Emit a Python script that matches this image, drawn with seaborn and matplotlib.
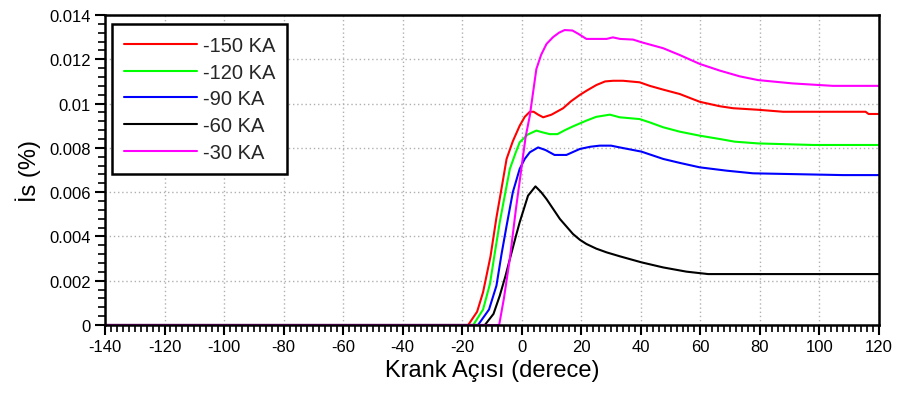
import numpy as np
import pandas as pd
import matplotlib
matplotlib.use("Agg")
import matplotlib.pyplot as plt
import seaborn as sns
from matplotlib.ticker import MultipleLocator, FuncFormatter

# ---- data ----
series_labels = ["-150 KA", "-120 KA", "-90 KA", "-60 KA", "-30 KA"]
series_colors = ["#FF0000", "#00FF00", "#0000FF", "#000000", "#FF00FF"]

x_150 = [-140, -18, -15, -13, -10.5, -8.5, -6.5, -5.1, -3, -0.7, 1, 2.7, 4, 5.5, 7.2, 10,
         13.9, 16.5, 19.5, 22, 25.1, 28, 30.7, 34, 39.6, 43, 47.5, 53.1, 59.8, 66.5, 71,
         79.4, 87.8, 115.5, 116.5, 120]
y_150 = [0, 0, 0.0006, 0.00148, 0.0031, 0.00486, 0.0064, 0.0075, 0.0083, 0.009, 0.0094,
         0.00963, 0.00963, 0.0095, 0.00938, 0.0095, 0.00979, 0.0101, 0.01039, 0.0106,
         0.01084, 0.011, 0.01103, 0.01103, 0.01096, 0.0108, 0.01063, 0.01043, 0.01008,
         0.00988, 0.00979, 0.00972, 0.00963, 0.00963, 0.00953, 0.00953]

x_120 = [-140, -16.3, -13, -10.7, -9, -7.4, -5.5, -4, -2, -0.7, 2, 4.9, 7, 9.4, 12, 14.5,
         17.2, 21.7, 25, 29.6, 32.9, 39.6, 43, 47.5, 53.1, 59.8, 66.5, 71.5, 79.4, 97.9, 120]
y_120 = [0, 0, 0.0007, 0.00185, 0.0033, 0.00464, 0.006, 0.00705, 0.0078, 0.00825, 0.0086,
         0.00878, 0.0087, 0.00862, 0.00862, 0.0088, 0.00897, 0.00923, 0.0094, 0.0095,
         0.00938, 0.0093, 0.00915, 0.00893, 0.00873, 0.00855, 0.0084, 0.00828, 0.0082,
         0.00813, 0.00813]

x_90 = [-140, -14.7, -11, -8.5, -6.8, -5.1, -3, -0.7, 1, 2.7, 5.5, 8, 11, 15, 19.5, 23,
        26.2, 30, 32.9, 40.2, 47.5, 53.1, 59.8, 68.8, 77.7, 107.9, 120]
y_90 = [0, 0, 0.0007, 0.00178, 0.0032, 0.00448, 0.006, 0.00705, 0.0075, 0.0078, 0.00802,
        0.0079, 0.00768, 0.00768, 0.00795, 0.00805, 0.0081, 0.0081, 0.00802, 0.00783,
        0.0075, 0.00732, 0.00712, 0.00697, 0.00685, 0.00677, 0.00677]

x_60 = [-140, -12.4, -9.5, -7.4, -5.5, -4, -2, -0.7, 2.1, 4.6, 6.5, 8.3, 10.5, 12.8, 15,
        17.2, 19.5, 21.7, 25, 28.5, 33, 40.2, 47.5, 55.3, 62.6, 120]
y_60 = [0, 0, 0.0005, 0.00132, 0.0022, 0.00298, 0.004, 0.00464, 0.00584, 0.00626,
        0.006, 0.00569, 0.00525, 0.00479, 0.00445, 0.00411, 0.00385, 0.00366, 0.00345,
        0.00328, 0.0031, 0.00283, 0.0026, 0.00241, 0.0023, 0.0023]

x_30 = [-140, -7.6, -6, -4, -2, 0, 1.3, 2.7, 4.9, 6.5, 8.3, 10.5, 12.5, 14.4, 17, 19,
        21.7, 26, 28.5, 30.6, 33, 37.4, 40.2, 47.5, 53.1, 59.8, 66.5, 73.2, 79.4, 91,
        104.5, 120]
y_30 = [0, 0, 0.0012, 0.003, 0.0052, 0.0072, 0.0085, 0.00945, 0.01156, 0.0122, 0.01269,
        0.013, 0.0132, 0.01332, 0.0133, 0.01315, 0.01292, 0.01292, 0.01292, 0.01299,
        0.01292, 0.01289, 0.01277, 0.0125, 0.01219, 0.01179, 0.01149, 0.01123, 0.01106,
        0.01091, 0.0108, 0.0108]

series_x = [x_150, x_120, x_90, x_60, x_30]
series_y = [y_150, y_120, y_90, y_60, y_30]

x_ticks = list(range(-140, 121, 20))
y_ticks = [0, 0.002, 0.004, 0.006, 0.008, 0.010, 0.012, 0.014]

# ---- build long-form table ----
frames = []
for lab, xs, ys in zip(series_labels, series_x, series_y):
    frames.append(pd.DataFrame({"x": xs, "y": ys, "series": lab}))
df = pd.concat(frames, ignore_index=True)

sns.set_theme(style="white")
plt.rcParams["font.family"] = ["Liberation Sans", "DejaVu Sans"]
plt.rcParams["axes.unicode_minus"] = False

fig = plt.figure(figsize=(8.97, 4.02), dpi=100)
ax = fig.add_axes([105/897, 1 - 326/402, 774/897, 310/402])

sns.lineplot(data=df, x="x", y="y", hue="series", hue_order=series_labels,
             palette=series_colors, estimator=None, sort=False, linewidth=1.5, ax=ax)

ax.set_xlim(-140, 120)
ax.set_ylim(0, 0.014)
ax.set_xticks(x_ticks)
ax.set_yticks(y_ticks)
ax.xaxis.set_minor_locator(MultipleLocator(2))
ax.yaxis.set_minor_locator(MultipleLocator(0.0004))
ax.xaxis.set_major_formatter(FuncFormatter(lambda v, p: f"{int(round(v))}"))
ax.yaxis.set_major_formatter(FuncFormatter(lambda v, p: "0" if v == 0 else f"{v:g}"))
ax.tick_params(axis="both", which="major", direction="out", length=7, width=1.5,
               color="black", labelsize=12, colors="black", pad=3)
ax.tick_params(axis="both", which="minor", direction="out", length=5, width=1.2,
               color="black")
ax.tick_params(axis="x", which="both", bottom=True)
ax.tick_params(axis="y", which="both", left=True)

for s in ax.spines.values():
    s.set_visible(True)
    s.set_color("black")
    s.set_linewidth(1.8)

ax.grid(True, which="major", linestyle=(0, (1, 2)), color="#b0b0b0", linewidth=1)
ax.set_axisbelow(True)

ax.set_xlabel("Krank Açısı (derece)", fontsize=17, color="black", labelpad=4)
ax.set_ylabel("İs (%)", fontsize=17, color="black", labelpad=6)

leg = ax.legend(loc="upper left", bbox_to_anchor=(0.009, 0.971), borderaxespad=0,
                frameon=True, fancybox=False, edgecolor="black", framealpha=1,
                fontsize=14.5, handlelength=3.6, handletextpad=0.3, labelspacing=0.38,
                borderpad=0.6, title=None)
leg.get_frame().set_linewidth(1.8)
for line in leg.get_lines():
    line.set_linewidth(1.5)

fig.savefig("out.png", dpi=100)
